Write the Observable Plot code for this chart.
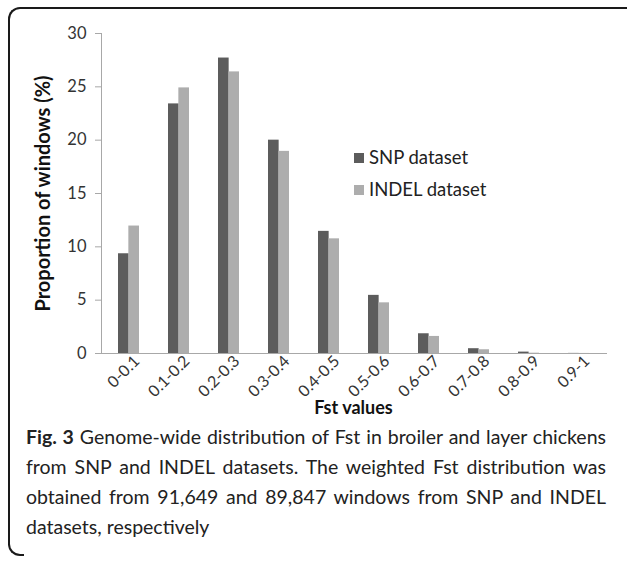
<!DOCTYPE html>
<html>
<head>
<meta charset="utf-8">
<script src="https://cdn.jsdelivr.net/npm/d3@7"></script>
<script src="https://cdn.jsdelivr.net/npm/@observablehq/plot@0.6"></script>
<style>
  html, body { margin: 0; padding: 0; background: #fff; }
  #wrap { position: relative; width: 627px; height: 563px; overflow: hidden; font-family: Lato, sans-serif; }
  #border { position: absolute; left: 8px; top: 7px; width: 620px; height: 536px; border-top: 2px solid #1a1a1a; border-left: 2px solid #1a1a1a; border-top-left-radius: 12px; }
  #corner { position: absolute; left: 8px; top: 540px; width: 14px; height: 14px; border-left: 2px solid #1a1a1a; border-bottom: 2px solid #1a1a1a; border-bottom-left-radius: 12px; }
  #chart { position: absolute; left: 0; top: 0; }
  .legend { position: absolute; left: 354px; font-size: 18.5px; color: #222; line-height: 22px; }
  .legend span.sw { display: inline-block; width: 10px; height: 10px; margin-right: 5px; vertical-align: 1px; }
  #xlabel { position: absolute; left: 0; width: 707px; text-align: center; top: 396px; font-weight: bold; font-size: 18px; line-height: 22px; color: #111; }
  #caption { position: absolute; left: 26px; width: 580px; top: 422px; font-size: 19.5px; line-height: 30px; color: #222; }
  #caption div { text-align: justify; text-align-last: justify; white-space: nowrap; }
  #caption div.last { text-align-last: left; }
</style>
</head>
<body>
<div id="wrap">
  <div id="border"></div>
  <div id="corner"></div>
  <div id="chart"></div>
  <div class="legend" id="lg1" style="top:146px"></div>
  <div class="legend" id="lg2" style="top:178px"></div>
  <div id="xlabel"></div>
  <div id="caption"></div>
</div>
<script>
const categories = ["0-0.1", "0.1-0.2", "0.2-0.3", "0.3-0.4", "0.4-0.5", "0.5-0.6", "0.6-0.7", "0.7-0.8", "0.8-0.9", "0.9-1"];
const snpValues = [9.35, 23.4, 27.7, 20.0, 11.45, 5.45, 1.85, 0.45, 0.13, 0.01];
const indelValues = [11.95, 24.9, 26.4, 18.95, 10.75, 4.75, 1.6, 0.35, 0.03, 0.005];
const seriesNames = ["SNP dataset", "INDEL dataset"];
const seriesColors = ["#5c5c5c", "#adadad"];
const yTicks = [0, 5, 10, 15, 20, 25, 30];
const yLabel = "Proportion of windows (%)";
const xLabel = "Fst values";
const captionLines = [
  ["Fig. 3", " Genome-wide distribution of Fst in broiler and layer chickens"],
  ["", "from SNP and INDEL datasets. The weighted Fst distribution was"],
  ["", "obtained from 91,649 and 89,847 windows from SNP and INDEL"],
  ["", "datasets, respectively"]
];

const snpRows = categories.map((c, i) => ({cat: c, value: snpValues[i]}));
const indelRows = categories.map((c, i) => ({cat: c, value: indelValues[i]}));

const halfBar = 10.35;
const axisGray = "#a8a8a8";

const chart = Plot.plot({
  width: 627,
  height: 440,
  marginLeft: 101,
  marginRight: 21,
  marginTop: 33,
  marginBottom: 87,
  style: {fontFamily: "Lato, sans-serif", background: "transparent"},
  x: {domain: categories, paddingInner: 0.59, paddingOuter: 0.295},
  y: {domain: [0, 30]},
  marks: [
    Plot.barY(snpRows, {x: "cat", y: "value", fill: seriesColors[0], insetRight: halfBar}),
    Plot.barY(indelRows, {x: "cat", y: "value", fill: seriesColors[1], insetLeft: halfBar}),
    Plot.frame({anchor: "left", stroke: axisGray}),
    Plot.frame({anchor: "bottom", stroke: axisGray}),
    Plot.axisY({ticks: yTicks, tickSize: 6, tickPadding: 9, fontSize: 16.5, stroke: axisGray, fill: "#333",
      label: yLabel, labelAnchor: "center", labelOffset: 66, labelArrow: "none"}),
    Plot.axisX({tickSize: 0, tickPadding: 5, tickRotate: -45, fontSize: 16, dx: 8, fill: "#333", label: null})
  ]
});
document.getElementById("chart").appendChild(chart);

// style the y-axis label bold
chart.querySelectorAll("g[aria-label='y-axis label'] text").forEach(t => {
  t.setAttribute("font-weight", "bold");
  t.setAttribute("font-size", "20");
  t.setAttribute("fill", "#111");
});

document.getElementById("lg1").innerHTML = `<span class="sw" style="background:${seriesColors[0]}"></span>${seriesNames[0]}`;
document.getElementById("lg2").innerHTML = `<span class="sw" style="background:${seriesColors[1]}"></span>${seriesNames[1]}`;
document.getElementById("xlabel").textContent = xLabel;
document.getElementById("caption").innerHTML = captionLines.map((l, i) =>
  `<div class="${i === captionLines.length - 1 ? "last" : ""}">${l[0] ? `<b>${l[0]}</b>` : ""}${l[1]}</div>`).join("");
</script>
</body>
</html>
